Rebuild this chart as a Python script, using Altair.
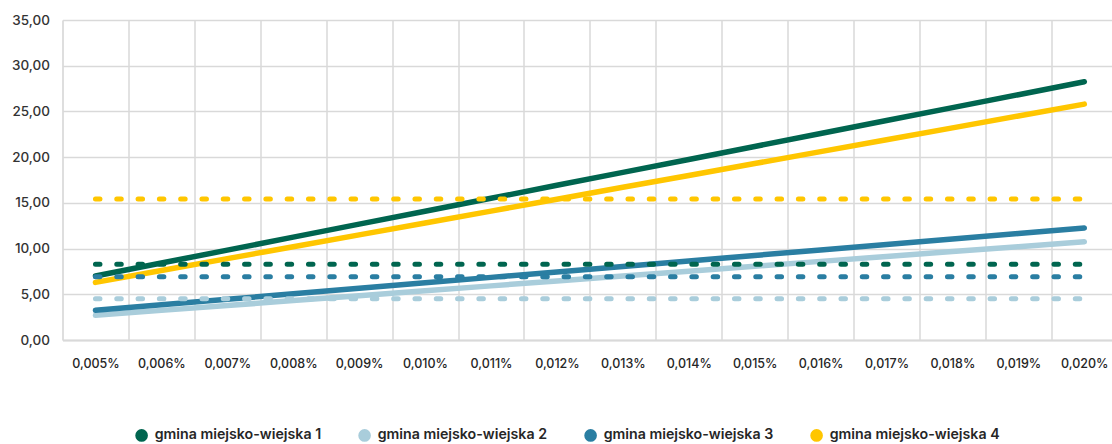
import json
import altair as alt
import pandas as pd

# Category axis: contribution rates
rates = ["0,005%", "0,006%", "0,007%", "0,008%", "0,009%", "0,010%", "0,011%", "0,012%",
         "0,013%", "0,014%", "0,015%", "0,016%", "0,017%", "0,018%", "0,019%", "0,020%"]

series = ["gmina miejsko-wiejska 1", "gmina miejsko-wiejska 2",
          "gmina miejsko-wiejska 3", "gmina miejsko-wiejska 4"]
colors = ["#00654f", "#a9cddb", "#2a7ea2", "#ffc600"]

# Amount per rate for each municipality (solid lines)
gmina_1 = [7.00, 8.42, 9.83, 11.25, 12.67, 14.08, 15.50, 16.92,
           18.33, 19.75, 21.17, 22.58, 24.00, 25.42, 26.83, 28.25]
gmina_2 = [2.70, 3.24, 3.77, 4.31, 4.85, 5.38, 5.92, 6.46,
           6.99, 7.53, 8.07, 8.60, 9.14, 9.68, 10.21, 10.75]
gmina_3 = [3.25, 3.85, 4.45, 5.05, 5.65, 6.25, 6.85, 7.45,
           8.05, 8.65, 9.25, 9.85, 10.45, 11.05, 11.65, 12.25]
gmina_4 = [6.30, 7.60, 8.90, 10.20, 11.50, 12.80, 14.10, 15.40,
           16.70, 18.00, 19.30, 20.60, 21.90, 23.20, 24.50, 25.80]

# Reference levels per municipality (dotted lines)
levels = [8.28, 4.52, 6.93, 15.42]

solid_rows = []
for name, vals in zip(series, [gmina_1, gmina_2, gmina_3, gmina_4]):
    for i, (r, v) in enumerate(zip(rates, vals)):
        solid_rows.append({"idx": i, "rate": r, "value": v, "series": name})
solid_df = pd.DataFrame(solid_rows)

dot_rows = []
for name, lvl in zip(series, levels):
    for i, r in enumerate(rates):
        dot_rows.append({"idx": i, "rate": r, "value": lvl, "series": name})
dot_df = pd.DataFrame(dot_rows)

legend_df = pd.DataFrame({"idx": [0] * 4, "value": [-10] * 4, "series": series})

FONT = "Inter"
GRID = "#d9d9d9"

grid_values = [i - 0.5 for i in range(len(rates))]
tick_values = sorted(grid_values + list(range(len(rates))))
label_expr = ("datum.value % 1 === 0 ? " + json.dumps(rates) + "[datum.value] : ''")

x_enc = alt.X(
    "idx:Q",
    scale=alt.Scale(domain=[-0.5, 15.42], nice=False, zero=False),
    axis=alt.Axis(
        title=None, values=tick_values, labelExpr=label_expr, ticks=False,
        labelPadding=17, labelFontSize=12.5, labelColor="#262626", labelFont=FONT,
        labelFontWeight=500, labelOverlap=False,
        domain=True, domainColor=GRID, domainWidth=2,
        grid=True, gridColor=GRID, gridWidth=1.5,
        gridOpacity={"condition": {"test": "datum.value % 1 === 0", "value": 0}, "value": 1},
    ),
)
y_enc = alt.Y(
    "value:Q",
    scale=alt.Scale(domain=[0, 35], nice=False),
    axis=alt.Axis(
        title=None, values=[0, 5, 10, 15, 20, 25, 30, 35],
        labelExpr="replace(format(datum.value, '.2f'), '.', ',')",
        ticks=False, domain=False, labelPadding=13, labelFontSize=13.5,
        labelColor="#333333", labelFont=FONT, labelFontWeight=500,
        grid=True, gridColor=GRID, gridWidth=1.5,
    ),
)
color_scale = alt.Scale(domain=series, range=colors)

solid = alt.Chart(solid_df).mark_line(strokeWidth=5.5, strokeCap="round").encode(
    x=x_enc, y=y_enc,
    color=alt.Color("series:N", scale=color_scale, legend=None),
    detail="series:N",
)

dotted = alt.Chart(dot_df).mark_line(
    strokeWidth=5, strokeCap="round", strokeDash=[4.5, 16.8]
).encode(
    x=x_enc, y=y_enc,
    color=alt.Color("series:N", scale=color_scale, legend=None),
    detail="series:N",
)

legend_layer = alt.Chart(legend_df).mark_circle(clip=True, opacity=1).encode(
    x=x_enc, y=y_enc,
    color=alt.Color(
        "series:N", scale=color_scale,
        legend=alt.Legend(
            title=None, orient="none", direction="horizontal", legendX=72, legendY=408,
            symbolType="circle", symbolSize=160, symbolStrokeWidth=0, symbolOpacity=1,
            labelFont=FONT, labelFontSize=14.2, labelFontWeight=600, labelColor="#262626",
            labelOffset=6, columnPadding=36, padding=0, labelLimit=400,
        ),
    ),
)

chart = alt.layer(solid, dotted, legend_layer).resolve_legend(
    color="independent"
).properties(
    width=1049.5, height=320,
    padding={"left": 62.5, "top": 20, "right": 0, "bottom": 104},
    autosize=alt.AutoSizeParams(type="none"),
).configure_view(stroke=None).configure(background="white")

chart.save("out.html", embed_options={"renderer": "svg", "actions": False})
